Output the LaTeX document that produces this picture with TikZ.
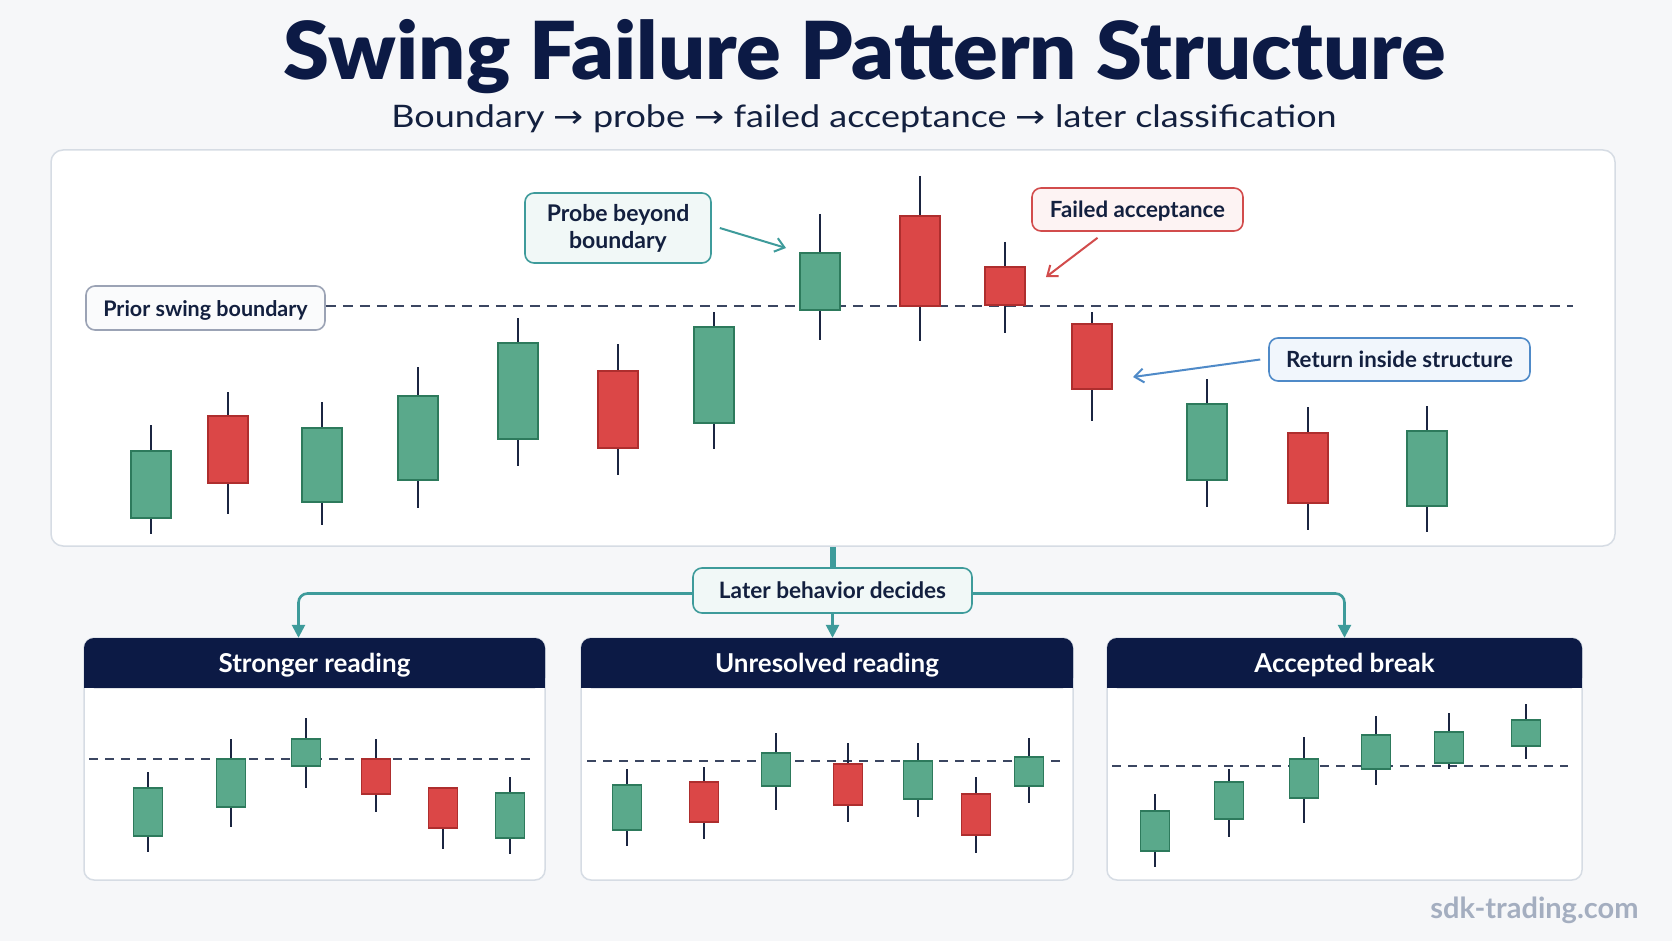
\documentclass[tikz,border=0pt]{standalone}
\usepackage{fontspec}
\setmainfont{Lato}
\newfontfamily\titlefont{Lato Black}
\newfontfamily\arrowfont{DejaVu Sans}
\usetikzlibrary{arrows.meta}

\definecolor{bg}{HTML}{F6F7F9}
\definecolor{ink}{HTML}{13203F}
\definecolor{navy}{HTML}{0C1A45}
\definecolor{frame}{HTML}{D6DCE4}
\definecolor{bullfill}{HTML}{5AA98B}
\definecolor{bulledge}{HTML}{2D7A5C}
\definecolor{bearfill}{HTML}{DB4747}
\definecolor{bearedge}{HTML}{AE2E2E}
\definecolor{wickc}{HTML}{1B2541}
\definecolor{levelc}{HTML}{3B4661}
\definecolor{tealc}{HTML}{3E9B9B}
\definecolor{tealbg}{HTML}{F1F8F7}
\definecolor{redc}{HTML}{D24C4C}
\definecolor{redbg}{HTML}{FDF3F3}
\definecolor{bluec}{HTML}{4F8AC8}
\definecolor{bluebg}{HTML}{F1F6FC}
\definecolor{grayc}{HTML}{9BA3B5}
\definecolor{graybg}{HTML}{FAFBFC}
\definecolor{markc}{HTML}{A4AEC0}

\tikzset{
  bull/.style={fill=bullfill, draw=bulledge},
  bear/.style={fill=bearfill, draw=bearedge},
}

\begin{document}
\begin{tikzpicture}[x=1pt, y=-1pt,
    every node/.style={text=ink, font=\bfseries\fontsize{22.3}{28}\selectfont},
    panel/.style={draw=frame, line width=1.5pt, fill=white, rounded corners=12pt},
    tag/.style={line width=1.6pt, rounded corners=9pt, inner sep=0pt},
    oneline/.style={text height=16pt, text depth=0pt},
    header/.style={fill=navy, rounded corners=10pt, minimum height=50pt, text=white,
      font=\bfseries\fontsize{26}{30}\selectfont, text height=18pt, text depth=0pt},
    wick/.style={draw=wickc, line width=2.4pt},
    level/.style={draw=levelc, line width=2.4pt, dash pattern=on 10pt off 7pt},
    note/.style={line width=2pt, -{Straight Barb[length=9pt,width=14pt]}},
    branch/.style={draw=tealc, line width=2.6pt, rounded corners=9pt,
      -{Triangle[length=13pt,width=13pt]}}
  ]
  \fill[bg] (0,0) rectangle (1672,941);
  \useasboundingbox (0,0) rectangle (1672,941);

  % titles
  \node[font=\titlefont\fontsize{80}{88}\selectfont, text=navy, anchor=base] (title) at (865,80)
    {\scalebox{1.037}[1]{Swing Failure Pattern Structure}};
  \node[font=\fontsize{31}{36}\selectfont, anchor=base] (subtitle) at (864,128)
    {\scalebox{1.16}[1]{Boundary {\arrowfont →} probe {\arrowfont →} failed acceptance {\arrowfont →} later classification}};

  % main chart
  \node[panel, minimum width=1564pt, minimum height=396pt] (chart) at (833,348) {};
  \node[tag, oneline, draw=grayc, fill=graybg, minimum width=239pt, minimum height=44pt,
    font=\bfseries\fontsize{21.5}{26}\selectfont] (prior) at (205.5,308) {Prior swing boundary};
  \coordinate (levelend) at (1573,306);
  \draw[level] (prior.east |- levelend) -- (levelend);

  \foreach \x/\wt/\bt/\bb/\wb/\c in {151/425/451/518/534/bull, 228/392/416/483/514/bear,
      322/402/428/502/525/bull, 418/367/396/480/508/bull, 518/318/343/439/466/bull,
      618/344/371/448/475/bear, 714/312/327/423/449/bull, 820/214/253/310/340/bull,
      920/176/216/306/341/bear, 1005/242/267/305/333/bear, 1092/312/324/389/421/bear,
      1207/379/404/480/507/bull, 1308/407/433/503/530/bear, 1427/406/431/506/532/bull}{
    \draw[wick] (\x,\wt) -- (\x,\wb);
    \draw[\c, line width=1.6pt] (\x-20,\bt) rectangle (\x+20,\bb);
  }

  % callouts
  \node[tag, draw=tealc, fill=tealbg, minimum width=186pt, minimum height=70pt, align=center,
    font=\bfseries\fontsize{23}{27}\selectfont] (probe) at (618,228) {Probe beyond\\boundary};
  \node[tag, oneline, draw=redc, fill=redbg, minimum width=211pt, minimum height=43pt]
    (failed) at (1137.5,209.5) {Failed acceptance};
  \node[tag, oneline, draw=bluec, fill=bluebg, minimum width=261pt, minimum height=43pt]
    (inside) at (1399.5,359.5) {Return inside structure};
  \coordinate (probetip) at (786,248);
  \coordinate (failtip) at (1046,277);
  \coordinate (insidetip) at (1133,377);
  \draw[note, draw=tealc] ([xshift=8pt]probe.east) -- (probetip);
  \draw[note, draw=redc] ([xshift=-40pt,yshift=-6pt]failed.south) -- (failtip);
  \draw[note, draw=bluec] ([xshift=-8pt]inside.west) -- (insidetip);

  % outcome panels
  \draw[panel, rounded corners=10pt] (84,638) rectangle (545,880);
  \draw[panel, rounded corners=10pt] (581,638) rectangle (1073,880);
  \draw[panel, rounded corners=10pt] (1107,638) rectangle (1582,880);
  \fill[navy] (84,665) rectangle (545,688);
  \fill[navy] (581,665) rectangle (1073,688);
  \fill[navy] (1107,665) rectangle (1582,688);
  \node[header, minimum width=461pt] (hdrA) at (314.5,663) {Stronger reading};
  \node[header, minimum width=492pt] (hdrB) at (827,663) {Unresolved reading};
  \node[header, minimum width=475pt] (hdrC) at (1344.5,663) {Accepted break};

  \draw[level, line width=2pt, dash pattern=on 9pt off 7pt] (89,759) -- (534,759);
  \draw[level, line width=2pt, dash pattern=on 9pt off 7pt] (587,761) -- (1061,761);
  \draw[level, line width=2pt, dash pattern=on 9pt off 7pt] (1112,766) -- (1568,766);

  \foreach \x/\wt/\bt/\bb/\wb/\c in {148/772/788/836/852/bull, 231/739/759/807/827/bull,
      306/718/739/766/788/bull, 376/739/759/794/812/bear, 443/787/788/828/849/bear,
      510/777/793/838/854/bull,
      627/769/785/830/846/bull, 704/767/782/822/839/bear, 776/733/753/786/810/bull,
      848/743/764/805/822/bear, 918/743/761/799/817/bull, 976/777/794/835/853/bear,
      1029/738/757/786/803/bull,
      1155/794/811/851/867/bull, 1229/769/782/819/837/bull, 1304/737/759/798/823/bull,
      1376/716/735/769/785/bull, 1449/713/732/763/769/bull, 1526/704/720/746/759/bull}{
    \draw[wick, line width=2pt] (\x,\wt) -- (\x,\wb);
    \draw[\c, line width=1.5pt] (\x-14.5,\bt) rectangle (\x+14.5,\bb);
  }

  % decision split
  \node[tag, oneline, draw=tealc, fill=tealbg, minimum width=279pt, minimum height=45pt,
    font=\bfseries\fontsize{22.6}{28}\selectfont] (decide) at (832.5,590.5) {Later behavior decides};
  \draw[draw=tealc, line width=6pt] (decide.north |- chart.south) -- (decide.north);
  \draw[branch] ([yshift=-3pt]decide.west) -| ([xshift=-16pt]hdrA.north);
  \draw[branch] (decide.south) -- (decide.south |- hdrB.north);
  \draw[branch] ([yshift=-3pt]decide.east) -| (hdrC.north);

  \node[font=\bfseries\fontsize{29}{34}\selectfont, text=markc, anchor=base east]
    (site) at (1642,918) {sdk-trading.com};
\end{tikzpicture}
\end{document}
